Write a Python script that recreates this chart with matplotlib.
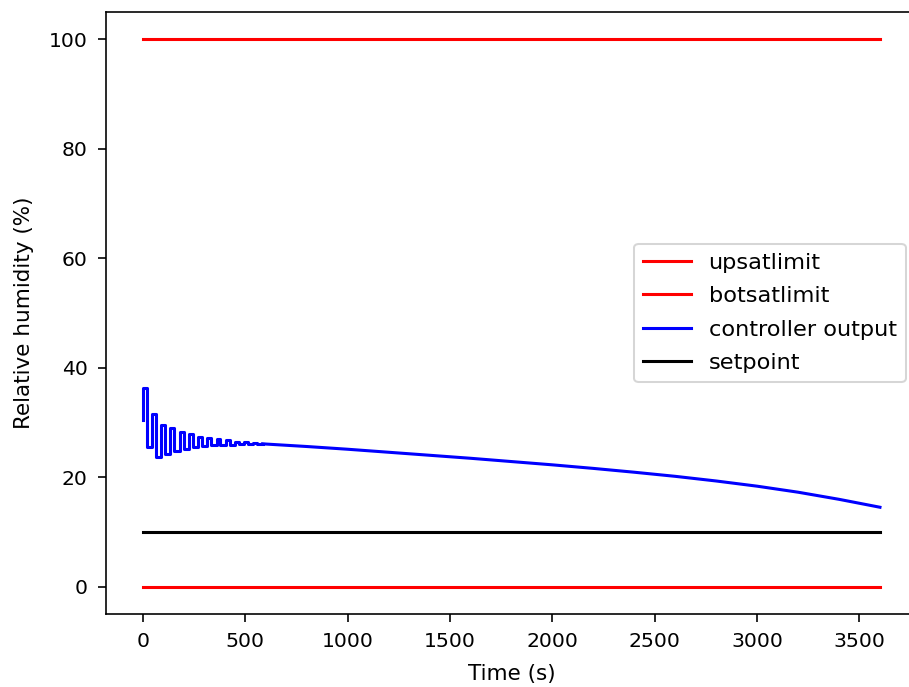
import numpy as np
import matplotlib
matplotlib.use('Agg')
import matplotlib.pyplot as plt

# simulation span and limits
t_end = 3600
upsat = 100
botsat = 0
setpoint = 10

# controller output: switching phase (step changes)
step_t = [0, 0, 19, 45, 64, 90, 109, 135, 154, 180, 199, 225, 244, 270, 289,
          315, 334, 360, 379, 405, 424, 450, 469, 495, 514, 540, 559, 585]
step_v = [30.4, 36.3, 25.5, 31.6, 23.7, 29.5, 24.3, 28.9, 24.8, 28.3, 25.2,
          27.8, 25.5, 27.4, 25.7, 27.1, 25.8, 26.9, 25.9, 26.7, 25.95, 26.5,
          26.0, 26.4, 26.0, 26.3, 26.0, 26.1]

# controller output: slow drift afterwards
drift_t = [600, 800, 1000, 1200, 1400, 1600, 1800, 2000, 2200, 2400, 2600,
           2800, 3000, 3200, 3400, 3600]
drift_v = [26.05, 25.6, 25.1, 24.55, 24.0, 23.45, 22.85, 22.25, 21.6, 20.9,
           20.15, 19.3, 18.35, 17.25, 15.95, 14.5]

plt.rcParams['font.size'] = 10.5

fig = plt.figure(figsize=(909 / 147, 687 / 147), dpi=147)
ax = fig.add_axes([0.1166, 0.1063, 0.892, 0.8763])

ax.plot([0, t_end], [upsat, upsat], color='r', label='upsatlimit')
ax.plot([0, t_end], [botsat, botsat], color='r', label='botsatlimit')
ax.step(step_t, step_v, where='post', color='b', label='controller output')
ax.plot([step_t[-1]] + drift_t, [step_v[-1]] + drift_v, color='b')
ax.plot([0, t_end], [setpoint, setpoint], color='k', label='setpoint')

ax.tick_params(labelsize=10, length=4, pad=5)
ax.set_xlabel('Time (s)', labelpad=6)
ax.set_ylabel('Relative humidity (%)', labelpad=7)
ax.legend(loc='center right', fontsize=11, labelspacing=0.6, handlelength=2.1)

fig.savefig('out.png', dpi=147)
